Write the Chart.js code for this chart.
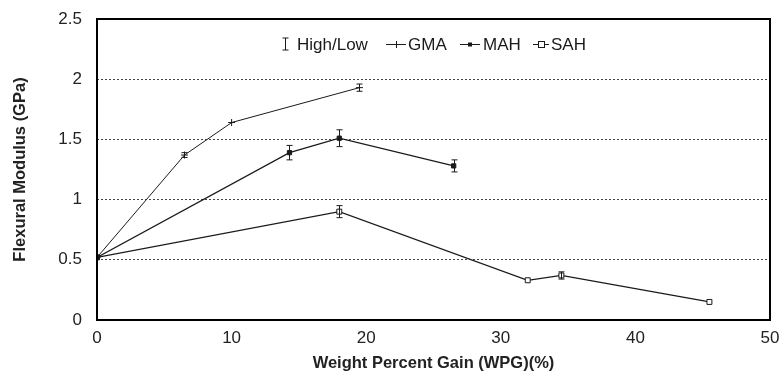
<!DOCTYPE html>
<html>
<head>
<meta charset="utf-8">
<script src="https://cdn.jsdelivr.net/npm/chart.js@4/dist/chart.umd.min.js"></script>
<style>
  html, body { margin: 0; padding: 0; background: #fff; }
  #wrap { width: 780px; height: 377px; }
</style>
</head>
<body>
<div id="wrap"><canvas id="c" width="780" height="377"></canvas></div>
<script>
// Flexural modulus vs. weight percent gain for three modification routes
const gmaX = [0, 6.5, 10, 19.5];
const gmaY = [0.52, 1.37, 1.64, 1.93];
const gmaErr = [0.01, 0.02, 0.01, 0.03];

const mahX = [0, 14.3, 18, 26.5];
const mahY = [0.52, 1.39, 1.51, 1.28];
const mahErr = [0.01, 0.06, 0.07, 0.05];

const sahX = [0, 18, 32, 34.5, 45.5];
const sahY = [0.52, 0.90, 0.33, 0.37, 0.15];
const sahErr = [0.01, 0.05, 0.01, 0.03, 0.01];

const xTicks = [0, 10, 20, 30, 40, 50];
const yTicks = [0, 0.5, 1, 1.5, 2, 2.5];
const legendNames = ['High/Low', 'GMA', 'MAH', 'SAH'];

const FONT = '"Liberation Sans", Arial, sans-serif';
const INK = '#1a1a1a';

function pts(xs, ys) { return xs.map((x, i) => ({ x: x, y: ys[i] })); }

// high/low whiskers drawn through the chart's own scales
const errorBars = {
  id: 'errorBars',
  afterDatasetsDraw(chart) {
    const { ctx, scales: { x, y } } = chart;
    ctx.save();
    ctx.strokeStyle = INK;
    ctx.lineWidth = 1;
    chart.data.datasets.forEach(ds => {
      (ds.data || []).forEach((p, i) => {
        const e = ds.errors[i];
        if (!e) return;
        const px = Math.round(x.getPixelForValue(p.x)) + 0.5;
        const top = y.getPixelForValue(p.y + e);
        const bot = y.getPixelForValue(p.y - e);
        if (bot - top < 3) return;
        ctx.beginPath();
        ctx.moveTo(px, top); ctx.lineTo(px, bot);
        ctx.moveTo(px - 3, top); ctx.lineTo(px + 3, top);
        ctx.moveTo(px - 3, bot); ctx.lineTo(px + 3, bot);
        ctx.stroke();
      });
    });
    ctx.restore();
  }
};

// plot frame and the in-plot legend row
const frameAndLegend = {
  id: 'frameAndLegend',
  afterDraw(chart) {
    const { ctx, chartArea: a } = chart;
    ctx.save();
    ctx.strokeStyle = '#000';
    ctx.lineWidth = 2;
    ctx.strokeRect(a.left, a.top, a.right - a.left, a.bottom - a.top);

    const cy = 44;
    ctx.font = '17px ' + FONT;
    ctx.fillStyle = INK;
    ctx.textBaseline = 'middle';
    ctx.strokeStyle = INK;
    ctx.lineWidth = 1;

    // High/Low symbol
    let sx = 285.5;
    ctx.beginPath();
    ctx.moveTo(sx, cy - 6); ctx.lineTo(sx, cy + 6);
    ctx.moveTo(sx - 3, cy - 6); ctx.lineTo(sx + 3, cy - 6);
    ctx.moveTo(sx - 3, cy + 6); ctx.lineTo(sx + 3, cy + 6);
    ctx.stroke();
    ctx.fillText(legendNames[0], 297, cy + 1);

    // GMA symbol
    ctx.beginPath();
    ctx.moveTo(386, cy + 0.5); ctx.lineTo(406, cy + 0.5);
    ctx.moveTo(396.5, cy - 3); ctx.lineTo(396.5, cy + 4);
    ctx.stroke();
    ctx.fillText(legendNames[1], 408, cy + 1);

    // MAH symbol
    ctx.beginPath();
    ctx.moveTo(460, cy + 0.5); ctx.lineTo(480, cy + 0.5);
    ctx.stroke();
    ctx.fillRect(468, cy - 1.5, 4, 4);
    ctx.fillText(legendNames[2], 483, cy + 1);

    // SAH symbol
    ctx.beginPath();
    ctx.moveTo(533, cy + 0.5); ctx.lineTo(549, cy + 0.5);
    ctx.stroke();
    ctx.fillStyle = '#fff';
    ctx.fillRect(538.5, cy - 2.5, 6, 6);
    ctx.strokeRect(538.5, cy - 2.5, 6, 6);
    ctx.fillStyle = INK;
    ctx.fillText(legendNames[3], 551, cy + 1);
    ctx.restore();
  }
};

const common = { borderColor: INK, borderWidth: 1.2, tension: 0, pointBorderColor: INK, pointBorderWidth: 1 };
const numLabel = v => String(v);

new Chart(document.getElementById('c'), {
  type: 'line',
  data: {
    datasets: [
      Object.assign({ label: 'GMA', data: pts(gmaX, gmaY), errors: gmaErr,
        pointStyle: 'cross', pointRadius: 3.5, pointBackgroundColor: INK }, common, { borderWidth: 1 }),
      Object.assign({ label: 'MAH', data: pts(mahX, mahY), errors: mahErr,
        pointStyle: 'rect', pointRadius: 3, pointBackgroundColor: INK }, common),
      Object.assign({ label: 'SAH', data: pts(sahX, sahY), errors: sahErr,
        pointStyle: 'rect', pointRadius: 3.5, pointBackgroundColor: '#fff' }, common)
    ]
  },
  options: {
    responsive: false,
    animation: false,
    layout: { padding: { top: 19, right: 0, left: 0, bottom: 0 } },
    plugins: { legend: { display: false }, tooltip: { enabled: false } },
    scales: {
      x: {
        type: 'linear', min: 0, max: 50,
        afterBuildTicks: s => { s.ticks = xTicks.map(v => ({ value: v })); },
        grid: { display: false, drawTicks: false },
        border: { display: false },
        ticks: { color: '#222', font: { family: FONT, size: 17 }, padding: 8, callback: numLabel },
        title: { display: true, text: 'Weight Percent Gain (WPG)(%)', color: '#222',
          font: { family: FONT, size: 16.5, weight: 'bold' }, padding: { top: 4, bottom: 4 } },
        afterFit: s => { s.height = 57; s.paddingLeft = 0; s.paddingRight = 10; }
      },
      y: {
        type: 'linear', min: 0, max: 2.5,
        afterBuildTicks: s => { s.ticks = yTicks.map(v => ({ value: v })); },
        grid: {
          drawTicks: false, lineWidth: 1,
          color: c => (c.tick && (c.tick.value === 0 || c.tick.value === 2.5)) ? 'rgba(0,0,0,0)' : '#444'
        },
        border: { display: false, dash: [2, 2] },
        ticks: { color: '#222', font: { family: FONT, size: 17 }, padding: 15, callback: numLabel },
        title: { display: true, text: 'Flexural Modulus (GPa)', color: '#222',
          font: { family: FONT, size: 16.5, weight: 'bold' }, padding: { top: 11, bottom: 0 } },
        afterFit: s => { s.width = 97; s.paddingTop = 0; s.paddingBottom = 0; }
      }
    }
  },
  plugins: [errorBars, frameAndLegend]
});
</script>
</body>
</html>
